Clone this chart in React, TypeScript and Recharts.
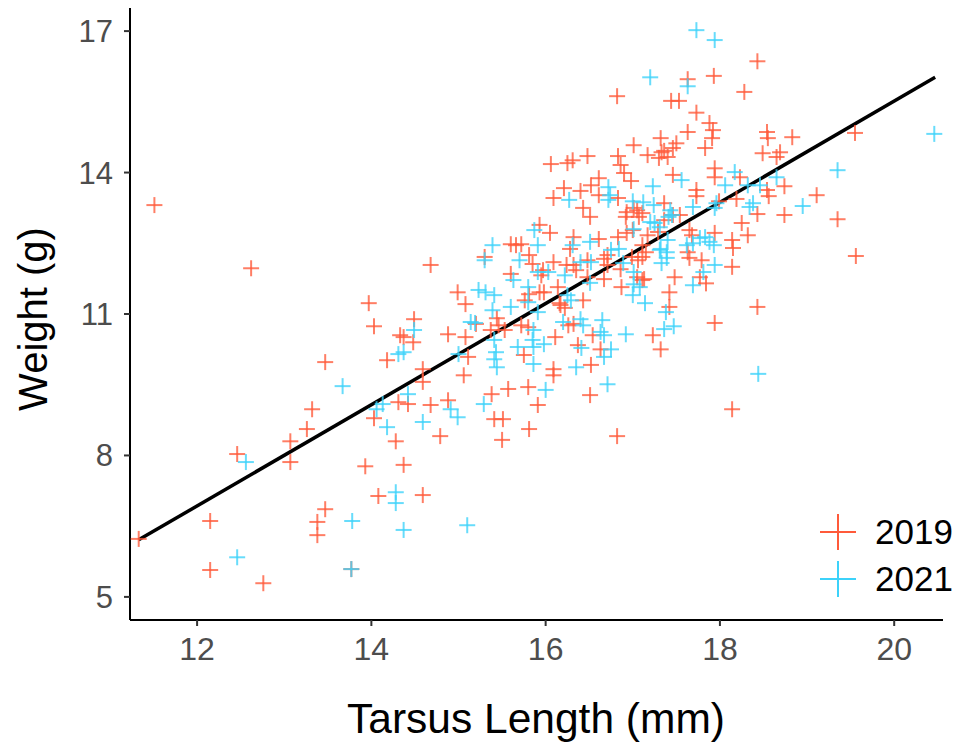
import { ScatterChart, Scatter, XAxis, YAxis, ReferenceLine } from "recharts";

// tarsus (mm), weight (g)
const birds2019: [number, number][] = [
  [11.33, 6.23], [11.51, 13.31], [12.62, 11.97], [12.15, 6.61], [12.15, 5.57], [12.46, 8.03],
  [12.76, 5.29], [13.07, 8.3], [13.07, 7.86], [13.26, 8.56], [13.32, 8.98], [13.38, 6.59],
  [13.38, 6.31], [13.47, 6.86], [13.47, 9.98], [13.77, 5.59], [13.93, 7.77], [13.97, 11.23],
  [14.03, 10.74], [14.03, 8.79], [14.08, 7.14], [14.18, 10.02], [14.28, 8.3], [14.33, 10.55],
  [14.31, 9.13], [14.37, 7.8], [14.42, 9.09], [14.48, 10.4], [14.37, 10.51], [14.49, 10.89],
  [14.59, 9.83], [14.59, 9.56], [14.59, 7.16], [14.68, 12.04], [14.68, 9.07], [14.79, 8.41],
  [14.88, 10.57], [14.88, 9.17], [14.99, 11.46], [15.08, 11.21], [15.08, 10.51], [15.11, 10.09],
  [15.06, 9.7], [15.2, 10.79], [15.37, 10.66], [15.41, 8.77], [15.51, 8.77], [15.5, 8.33],
  [15.44, 10.91], [15.46, 10.76], [15.53, 10.66], [15.38, 9.3], [15.57, 9.41], [15.6, 12.48],
  [15.66, 12.46], [15.72, 12.48], [15.81, 12.25], [15.85, 12.06], [15.97, 11.93], [15.6, 11.85],
  [15.3, 12.21], [15.81, 11.42], [15.95, 11.82], [15.98, 11.46], [15.93, 12.89], [16.05, 12.72],
  [16.32, 12.63], [16.28, 12.38], [16.61, 12.59], [16.83, 12.63], [16.92, 13.06], [17.07, 13.06],
  [17.36, 12.99], [17.29, 12.74], [17.17, 12.67], [16.93, 12.72], [17.0, 12.78], [16.09, 12.1],
  [16.32, 12.04], [16.35, 11.93], [16.24, 12.04], [16.48, 12.14], [16.67, 12.17], [16.71, 12.04],
  [16.71, 12.25], [16.86, 11.95], [16.99, 12.21], [17.06, 12.14], [17.15, 12.31], [17.05, 11.78],
  [17.13, 11.74], [16.87, 11.57], [16.48, 11.78], [16.43, 11.29], [16.67, 11.74], [16.17, 11.19],
  [16.14, 11.57], [16.16, 11.23], [16.22, 11.13], [15.93, 11.46], [15.76, 11.29], [15.72, 10.76],
  [15.8, 10.72], [16.26, 10.76], [16.32, 10.79], [16.11, 10.51], [16.54, 10.55], [16.37, 10.34],
  [16.63, 10.25], [17.23, 10.55], [17.32, 10.25], [15.75, 10.13], [16.09, 9.83], [16.09, 9.7],
  [16.52, 9.92], [16.51, 9.28], [15.8, 9.45], [15.91, 9.07], [15.81, 8.56], [16.82, 8.41],
  [16.51, 13.06], [16.82, 15.62], [17.44, 15.52], [17.32, 14.73], [17.01, 14.58], [17.17, 14.37],
  [17.36, 14.46], [17.3, 14.31], [16.83, 14.35], [16.48, 14.35], [16.31, 14.26], [16.25, 14.2],
  [16.06, 14.18], [16.86, 14.16], [16.9, 13.99], [16.98, 13.82], [16.61, 13.88], [16.52, 13.73],
  [16.21, 13.67], [16.4, 13.61], [16.61, 13.52], [16.09, 13.46], [16.83, 13.46], [17.36, 13.35],
  [16.43, 13.25], [17.01, 13.25], [16.93, 13.16], [17.05, 13.2], [17.11, 13.14], [17.46, 13.1],
  [17.54, 13.1], [17.65, 12.78], [17.68, 12.67], [17.94, 12.72], [18.14, 12.57], [18.15, 12.4],
  [18.32, 12.67], [18.25, 12.93], [18.43, 13.12], [17.63, 12.31], [17.65, 12.19], [17.11, 12.46],
  [17.11, 12.21], [17.79, 12.14], [18.14, 12.0], [17.84, 11.65], [17.77, 11.78], [17.48, 11.78],
  [17.42, 11.46], [17.42, 11.15], [17.11, 11.72], [17.94, 10.81], [18.43, 11.15], [18.14, 8.98],
  [18.74, 13.1], [19.35, 13.01], [19.56, 12.23], [17.73, 13.63], [17.73, 13.5], [18.19, 13.44],
  [17.99, 13.39], [18.54, 13.63], [18.56, 13.5], [18.74, 13.71], [19.11, 13.52], [18.23, 13.9],
  [17.94, 14.09], [17.94, 13.9], [17.46, 13.95], [18.43, 16.36], [17.93, 16.05], [17.63, 15.98],
  [18.28, 15.71], [17.53, 15.52], [17.73, 15.27], [17.63, 14.86], [17.88, 15.05], [17.92, 14.9],
  [17.91, 14.73], [17.83, 14.52], [18.54, 14.86], [18.55, 14.73], [18.83, 14.75], [18.69, 14.43],
  [18.49, 14.41], [18.65, 14.33], [17.5, 14.62], [17.46, 14.52], [17.33, 14.43], [17.4, 14.33],
  [19.55, 14.84],
];

const birds2021: [number, number][] = [
  [12.56, 7.86], [12.46, 5.84], [13.67, 9.47], [13.78, 6.61], [13.77, 5.59], [14.13, 9.09],
  [14.06, 8.98], [14.18, 8.6], [14.28, 7.22], [14.28, 6.99], [14.31, 10.15], [14.37, 6.42],
  [14.59, 8.71], [14.99, 8.81], [15.1, 6.52], [14.37, 10.19], [14.42, 9.3], [14.49, 10.66],
  [14.91, 8.98], [15.0, 10.15], [15.14, 10.83], [15.23, 11.51], [15.31, 11.46], [15.41, 11.4],
  [15.39, 12.46], [15.3, 12.14], [15.29, 9.09], [15.41, 10.45], [15.43, 10.19], [15.41, 10.04],
  [15.44, 9.87], [15.6, 11.15], [15.39, 11.08], [15.63, 11.72], [15.7, 12.14], [15.8, 11.57],
  [15.8, 11.25], [15.91, 12.46], [15.87, 12.78], [15.91, 11.89], [16.03, 11.89], [15.91, 11.04],
  [16.22, 11.82], [16.25, 11.4], [16.29, 11.29], [16.31, 12.46], [16.4, 12.1], [16.52, 12.1],
  [16.51, 11.66], [16.51, 12.53], [16.75, 12.36], [16.84, 12.38], [16.89, 12.08], [17.01, 11.89],
  [17.01, 11.63], [17.0, 11.4], [17.08, 11.57], [17.14, 11.23], [17.01, 12.8], [17.2, 12.95],
  [17.41, 13.06], [17.32, 12.38], [17.39, 12.19], [17.38, 11.04], [17.36, 10.68], [16.92, 10.57],
  [16.65, 10.87], [16.63, 10.62], [16.67, 10.55], [16.75, 10.25], [16.67, 10.09], [16.71, 9.51],
  [16.4, 10.89], [16.43, 10.76], [16.41, 10.28], [16.35, 9.87], [16.2, 10.83], [16.0, 9.39],
  [15.86, 10.66], [15.85, 10.45], [15.86, 10.3], [15.98, 10.36], [15.68, 10.3], [15.86, 9.94],
  [15.19, 10.81], [17.2, 16.02], [17.73, 17.02], [17.94, 16.81], [17.63, 15.83], [16.72, 13.69],
  [16.74, 13.52], [17.23, 13.71], [16.27, 13.42], [16.72, 13.42], [17.0, 13.39], [17.12, 13.37],
  [17.24, 13.31], [17.43, 13.2], [17.45, 13.1], [17.25, 12.93], [17.31, 12.84], [18.17, 14.01],
  [17.56, 13.84], [18.06, 13.73], [18.32, 13.73], [18.46, 13.73], [18.65, 13.9], [19.35, 14.05],
  [18.95, 13.29], [18.38, 13.35], [18.34, 13.27], [17.96, 13.35], [17.94, 13.25], [17.69, 13.27],
  [17.88, 12.53], [17.77, 12.61], [17.69, 12.5], [17.4, 12.57], [17.39, 12.31], [17.31, 12.36],
  [17.33, 12.08], [17.94, 12.04], [17.81, 11.89], [17.69, 11.61], [17.47, 10.74], [18.44, 9.73],
  [20.46, 14.82], [17.83, 12.63], [17.93, 12.46], [17.62, 12.46],
];

// linear fit, drawn across the data range
const fitLine = [
  { x: 11.33, y: 6.21 },
  { x: 20.47, y: 16.02 },
];

const xTicks = [12, 14, 16, 18, 20];
const yTicks = [5, 8, 11, 14, 17];

const RED = "#FF5A3A";
const CYAN = "#3CD2FA";
const FONT = '"Liberation Sans", Arial, Helvetica, sans-serif';

const toRows = (pts: [number, number][]) => pts.map(([x, y]) => ({ x, y }));

function PlusMark({ cx, cy, color, size = 8 }: { cx?: number; cy?: number; color: string; size?: number }) {
  if (cx == null || cy == null) return <g />;
  return (
    <g stroke={color} strokeWidth={2} strokeOpacity={0.78}>
      <line x1={cx - size} y1={cy} x2={cx + size} y2={cy} />
      <line x1={cx} y1={cy - size} x2={cx} y2={cy + size} />
    </g>
  );
}

function LegendKey({ color, label }: { color: string; label: string }) {
  return (
    <div style={{ display: "flex", alignItems: "center", height: 47 }}>
      <svg width={40} height={40} style={{ marginRight: 17 }}>
        <line x1={2} y1={20} x2={38} y2={20} stroke={color} strokeWidth={2} />
        <line x1={20} y1={2} x2={20} y2={38} stroke={color} strokeWidth={2} />
      </svg>
      <span style={{ fontSize: 35, color: "#000" }}>{label}</span>
    </div>
  );
}

export default function App() {
  return (
    <div style={{ position: "absolute", left: 0, top: 0, width: 963, height: 753, background: "#fff", fontFamily: FONT }}>
      <ScatterChart width={963} height={753} margin={{ top: 8, right: 20, bottom: 73, left: 0 }}>
        <XAxis
          type="number"
          dataKey="x"
          domain={[11.23, 20.56]}
          allowDataOverflow
          ticks={xTicks}
          height={60}
          tickSize={6}
          tickMargin={11}
          axisLine={{ stroke: "#000", strokeWidth: 2 }}
          tickLine={{ stroke: "#333", strokeWidth: 2 }}
          tick={{ fill: "#4D4D4D", fontSize: 32, fontFamily: FONT }}
        />
        <YAxis
          type="number"
          dataKey="y"
          domain={[4.51, 17.49]}
          allowDataOverflow
          ticks={yTicks}
          width={130}
          tickSize={6}
          tickMargin={11}
          axisLine={{ stroke: "#000", strokeWidth: 2 }}
          tickLine={{ stroke: "#333", strokeWidth: 2 }}
          tick={{ fill: "#4D4D4D", fontSize: 31, fontFamily: FONT }}
        />
        <Scatter
          name="2019"
          data={toRows(birds2019)}
          isAnimationActive={false}
          shape={(p: any) => <PlusMark cx={p.cx} cy={p.cy} color={RED} />}
        />
        <Scatter
          name="2021"
          data={toRows(birds2021)}
          isAnimationActive={false}
          shape={(p: any) => <PlusMark cx={p.cx} cy={p.cy} color={CYAN} />}
        />
        <ReferenceLine
          segment={[fitLine[0], fitLine[1]]}
          stroke="#000"
          strokeWidth={3.5}
          ifOverflow="visible"
        />
      </ScatterChart>

      <div
        style={{
          position: "absolute",
          left: 33,
          top: 319,
          transform: "translate(-50%, -50%) rotate(-90deg)",
          fontSize: 40,
          whiteSpace: "nowrap",
          color: "#000",
        }}
      >
        Weight (g)
      </div>
      <div
        style={{
          position: "absolute",
          left: 536,
          top: 719,
          transform: "translate(-50%, -50%)",
          fontSize: 42.5,
          whiteSpace: "nowrap",
          color: "#000",
        }}
      >
        Tarsus Length (mm)
      </div>

      <div style={{ position: "absolute", left: 818, top: 508 }}>
        <LegendKey color={RED} label="2019" />
        <LegendKey color={CYAN} label="2021" />
      </div>
    </div>
  );
}
